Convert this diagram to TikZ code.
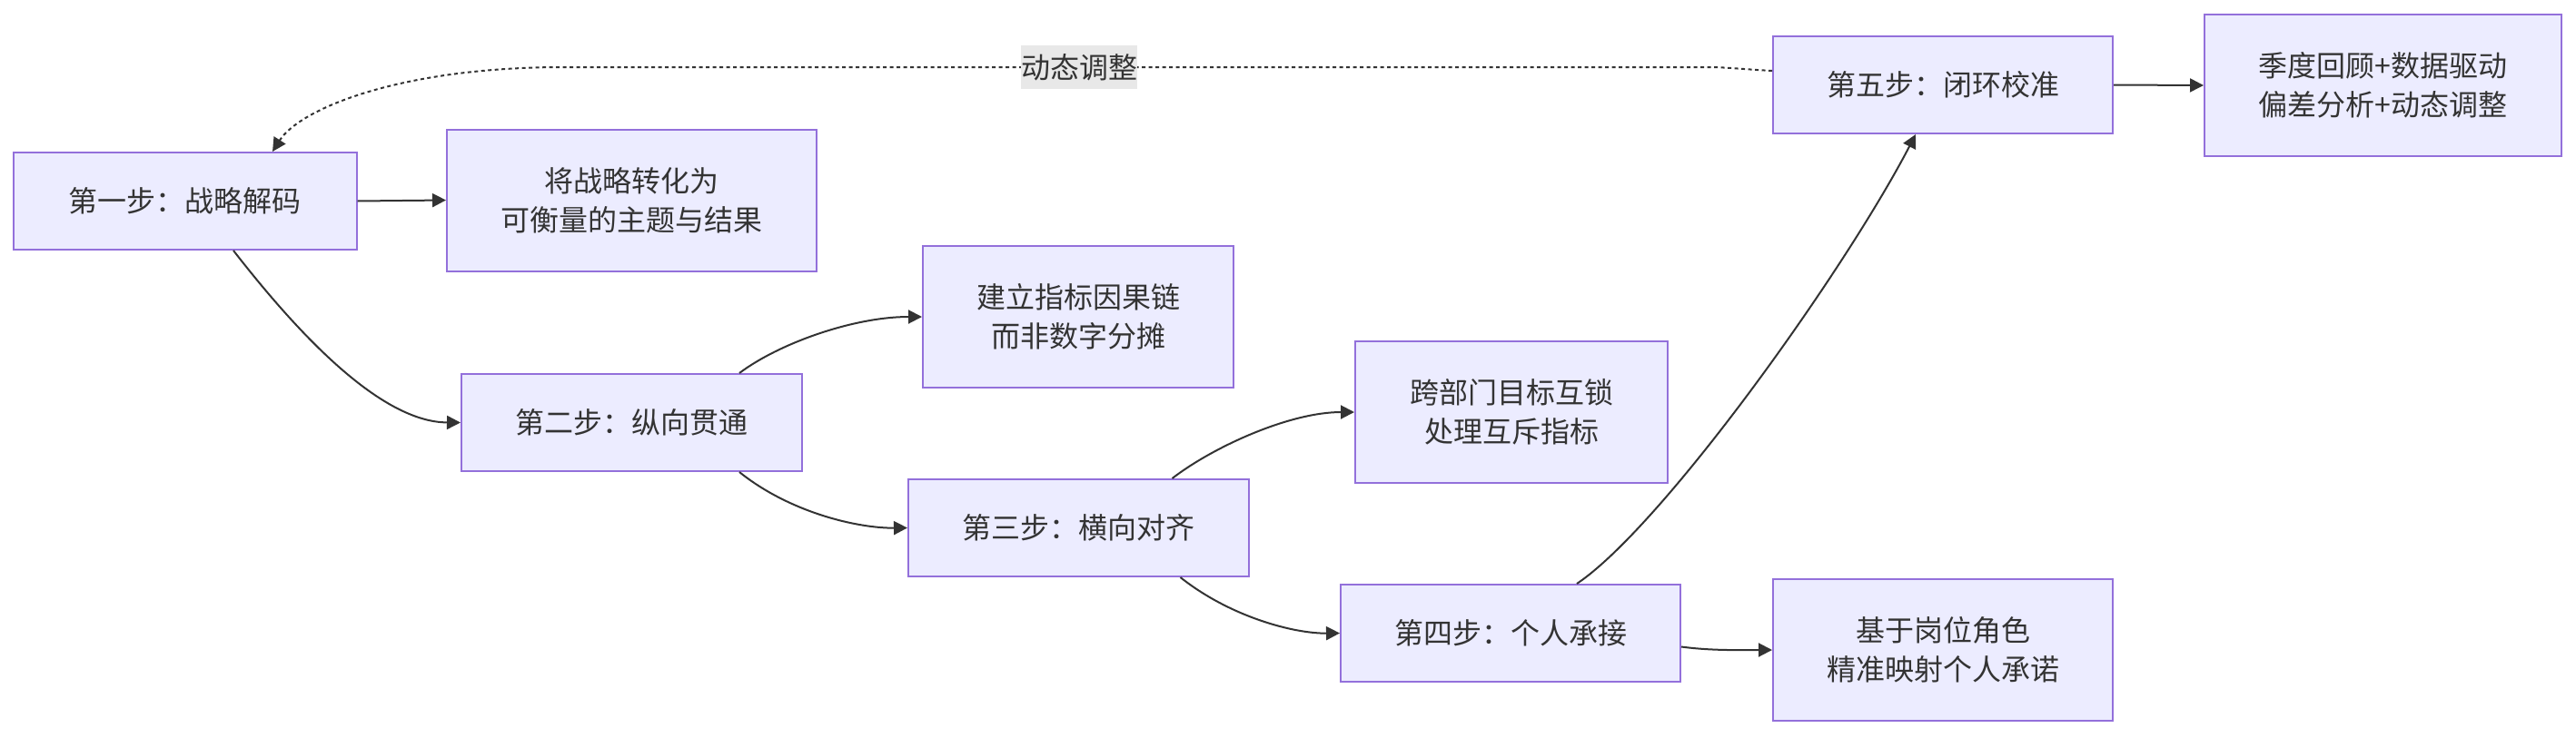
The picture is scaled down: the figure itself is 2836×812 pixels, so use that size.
\documentclass[tikz,border=0pt]{standalone}
\usepackage{fontspec}
\setmainfont{Noto Sans CJK SC}
\usetikzlibrary{arrows.meta}
\definecolor{boxfill}{HTML}{ECECFF}
\definecolor{boxline}{HTML}{9370DB}
\definecolor{ink}{HTML}{333333}
\definecolor{lblbg}{HTML}{E8E8E8}
\begin{document}
\begin{tikzpicture}[x=1pt,y=-1pt,
  box/.style={draw=boxline,fill=boxfill,line width=2pt,inner sep=0pt,align=center,
    text=ink,font=\fontsize{32}{43}\selectfont},
  onebox/.style={box,minimum width=#1,minimum height=107pt},
  twobox/.style={box,minimum width=#1,minimum height=156pt},
  link/.style={draw=ink,line width=2pt,-{Triangle[length=15pt,width=15pt]}},
  lbl/.style={fill=lblbg,text=ink,inner xsep=0pt,inner ysep=0pt,minimum height=48pt,
    font=\fontsize{32}{43}\selectfont}]
\useasboundingbox (0,0) rectangle (2836,812);
\node[onebox=378pt] (step1) at (203.5,221.5) {第一步：战略解码};
\node[twobox=407pt] (out1) at (695.5,220.5) {将战略转化为\\可衡量的主题与结果};
\node[onebox=375pt] (step2) at (695.5,465.5) {第二步：纵向贯通};
\node[twobox=342pt] (out2) at (1187,349) {建立指标因果链\\而非数字分摊};
\node[onebox=375pt] (step3) at (1187.5,581.5) {第三步：横向对齐};
\node[twobox=344pt] (out3) at (1664,454) {跨部门目标互锁\\处理互斥指标};
\node[onebox=374pt] (step4) at (1663,697.5) {第四步：个人承接};
\node[twobox=374pt] (out4) at (2139,716) {基于岗位角色\\精准映射个人承诺};
\node[onebox=374pt] (step5) at (2139,93.5) {第五步：闭环校准};
\node[twobox=393pt] (out5) at (2623.5,94) {季度回顾+数据驱动\\偏差分析+动态调整};

\draw[link] (step1.east) -- (out1.west);
\draw[link] ([xshift=53.5pt]step1.south) .. controls (330,370) and (420,465) .. (step2.west);
\draw[link] ([xshift=118.5pt]step2.north) .. controls (858,378) and (940,349) .. (out2.west);
\draw[link] ([xshift=118.5pt]step2.south) .. controls (870,565) and (945,582) .. (step3.west);
\draw[link] ([xshift=103pt]step3.north) .. controls (1336,492) and (1420,454) .. (out3.west);
\draw[link] ([xshift=112pt]step3.south) .. controls (1355,680) and (1425,698) .. (step4.west);
\draw[link] ([yshift=-15pt]step4.east) .. controls (1885,717) and (1915,716) .. (out4.west);
\draw[link] ([xshift=73pt]step4.north) .. controls (1830,580) and (2030,300) .. ([xshift=-30pt]step5.south);
\draw[link] (step5.east) -- (out5.west);
\draw[link,dash pattern=on 4pt off 3.5pt] ([yshift=15.5pt]step5.west) .. controls (1915,76) and (1900,74) .. (1880,74)
  -- node[lbl,pos=0.549] (adjust) {动态调整} (620,74)
  .. controls (440,74) and (330,120) .. ([xshift=96.5pt]step1.north);
\end{tikzpicture}
\end{document}
